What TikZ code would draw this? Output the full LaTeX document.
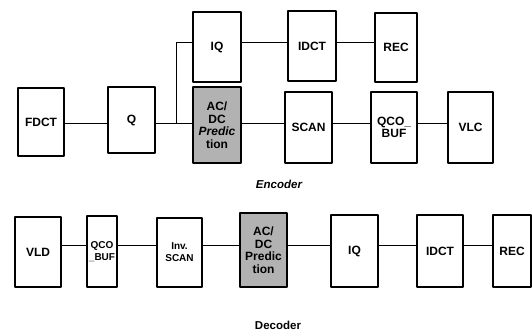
\documentclass[tikz,border=0pt]{standalone}
\usepackage{fontspec}
\usepackage{tikz}
\usetikzlibrary{calc}
\newfontfamily\blockfont{Liberation Sans}

\tikzset{
  block/.style={draw, line width=1.1pt, font=\blockfont\bfseries\fontsize{12}{12.5}\selectfont,
    align=center, inner sep=0pt, outer sep=0pt},
  shaded/.style={block, fill=black!30},
  small/.style={font=\blockfont\bfseries\fontsize{10}{12}\selectfont},
  link/.style={line width=0.9pt}
}

\begin{document}
\begin{tikzpicture}[x=1pt, y=-1pt, line join=round]
\useasboundingbox (0,0) rectangle (532,333);
% encoder
\coordinate (encrow) at (0,123);
\coordinate (iqrow) at (0,42);
\node[block, minimum width=46, minimum height=68] (fdct) at (41,122) {FDCT};
\node[block, minimum width=47, minimum height=66] (q) at (131.5,120) {Q};
\node[block, minimum width=48, minimum height=70] (iq) at (217,47) {IQ};
\node[shaded, minimum width=48, minimum height=76] (acdc) at (217,125) {AC/\\DC\\\textit{Predic}\\tion};
\node[block, minimum width=48, minimum height=70] (idct) at (312,46) {IDCT};
\node[block, minimum width=42, minimum height=69] (rec) at (396,47.5) {REC};
\node[block, minimum width=47, minimum height=71] (scan) at (308.5,127.5) {SCAN};
\node[block, minimum width=46, minimum height=71] (qbuf) at (394,127.5) {QCO\_\\BUF};
\node[block, minimum width=45, minimum height=71] (vlc) at (470.5,127.5) {VLC};
\coordinate (split) at (176,123);
\draw[link] (fdct.east |- encrow) -- (q.west |- encrow);
\draw[link] (q.east |- encrow) -- (acdc.west |- encrow);
\draw[link] (split) |- (iq.west |- iqrow);
\draw[link] (iq.east |- iqrow) -- (idct.west |- iqrow);
\draw[link] (idct.east |- iqrow) -- (rec.west |- iqrow);
\draw[link] (acdc.east |- encrow) -- (scan.west |- encrow);
\draw[link] (scan.east |- encrow) -- (qbuf.west |- encrow);
\draw[link] (qbuf.east |- encrow) -- (vlc.west |- encrow);
\node[font=\blockfont\bfseries\itshape\fontsize{11.5}{12}\selectfont] (enclabel) at (279,184) {Encoder};
% decoder
\coordinate (decrow) at (0,245);
\node[block, minimum width=46, minimum height=70] (dvld) at (38,252) {VLD};
\node[block, small, minimum width=30, minimum height=71] (dqbuf) at (102,251.5) {QCO\\\_BUF};
\node[block, small, minimum width=45, minimum height=69] (dscan) at (179.5,252.5) {Inv.\\SCAN};
\node[shaded, minimum width=47, minimum height=74] (dacdc) at (263.5,250) {AC/\\DC\\Predic\\tion};
\node[block, minimum width=47, minimum height=72] (diq) at (354.5,251) {IQ};
\node[block, minimum width=46, minimum height=72] (didct) at (440,251) {IDCT};
\node[block, minimum width=38, minimum height=72] (drec) at (512,251) {REC};
\draw[link] (dvld.east |- decrow) -- (dqbuf.west |- decrow);
\draw[link] (dqbuf.east |- decrow) -- (dscan.west |- decrow);
\draw[link] (dscan.east |- decrow) -- (dacdc.west |- decrow);
\draw[link] (dacdc.east |- decrow) -- (diq.west |- decrow);
\draw[link] (diq.east |- decrow) -- (didct.west |- decrow);
\draw[link] (didct.east |- decrow) -- (drec.west |- decrow);
\node[font=\blockfont\bfseries\fontsize{11.5}{12}\selectfont] (declabel) at (278,325) {Decoder};
\end{tikzpicture}
\end{document}
